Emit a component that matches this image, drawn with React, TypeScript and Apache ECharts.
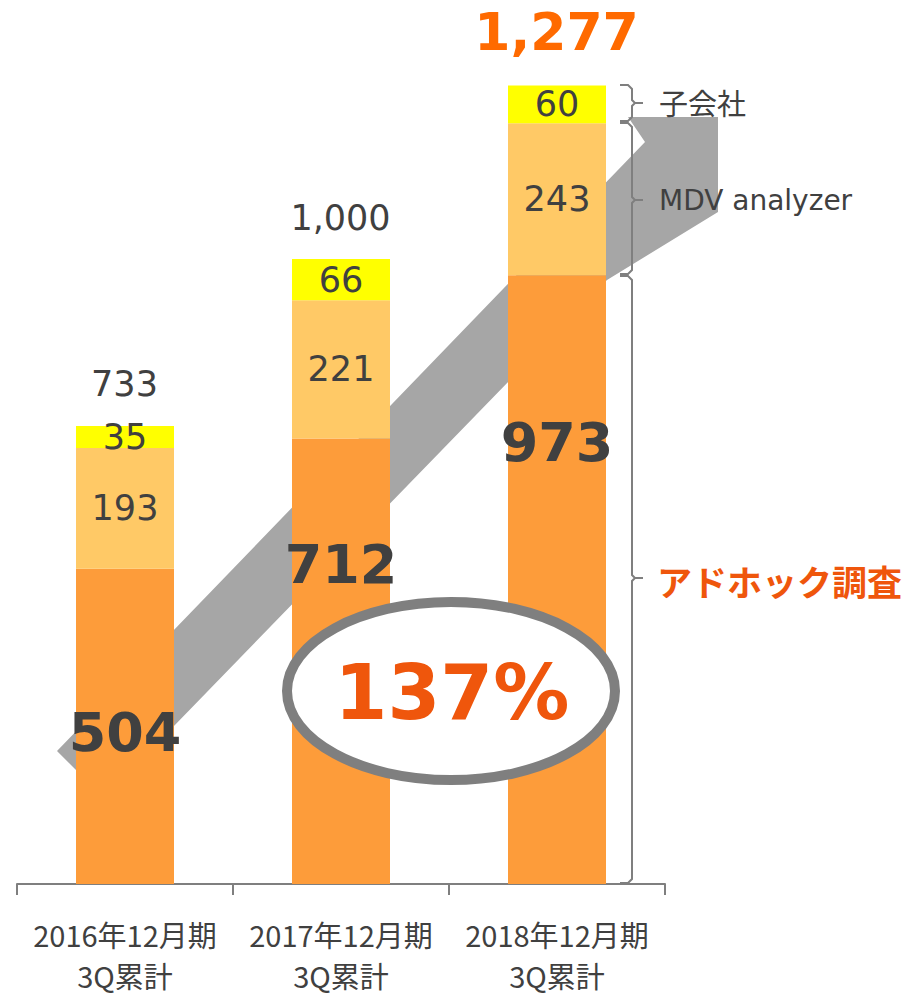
import React, { useEffect, useRef } from "react";
import * as echarts from "echarts";

const categories = ["2016年12月期\n3Q累計", "2017年12月期\n3Q累計", "2018年12月期\n3Q累計"];
const adhoc = [504, 712, 973];
const mdv = [193, 221, 243];
const subsidiary = [35, 66, 60];
const totals = [733, 1000, 1277];
const segmentNames = ["アドホック調査", "MDV analyzer", "子会社"];
const growthLabel = "137%";

// label placement (styling, pixels from segment top)
const adhocLabelOffsets = [164, 126, 167];
const totalLabelOffsets = [-41, -40, -52];

const DARK = "#404040";
const GRAY = "#7f7f7f";
const ACCENT = "#ef560c";

function brace(y1: number, y2: number, ym: number) {
  const x0 = 620;
  const xv = 632;
  return [
    {
      type: "polyline",
      z: 100,
      shape: {
        points: [
          [x0, y1], [xv - 4, y1], [xv, y1 + 4], [xv, ym - 3], [xv + 3, ym],
          [xv, ym + 3], [xv, y2 - 4], [xv - 4, y2], [x0, y2],
        ],
      },
      style: { stroke: GRAY, lineWidth: 2, fill: null },
    },
    {
      type: "line",
      z: 100,
      shape: { x1: xv + 2, y1: ym, x2: 643, y2: ym },
      style: { stroke: GRAY, lineWidth: 2 },
    },
  ];
}

export default function App() {
  const ref = useRef<HTMLDivElement>(null);
  useEffect(() => {
    if (!ref.current) return;
    const chart = echarts.init(ref.current, undefined, { renderer: "svg" });
    const numFont = "DejaVu Sans, Verdana, sans-serif";
    chart.setOption({
      animation: false,
      grid: { left: 17, right: 247, top: 8, bottom: 111, containLabel: false, outerBoundsMode: "none" },
      xAxis: {
        type: "category",
        data: categories,
        axisLine: { lineStyle: { color: GRAY, width: 2 } },
        axisTick: { show: true, interval: 0, length: 11, lineStyle: { color: GRAY, width: 2 } },
        axisLabel: {
          interval: 0,
          hideOverlap: false,
          color: DARK,
          fontSize: 29,
          lineHeight: 41,
          margin: 29,
          fontFamily: "Noto Sans CJK JP, sans-serif",
        },
      },
      yAxis: { type: "value", min: 0, max: 1400, show: false, splitLine: { show: false } },
      graphic: {
        elements: [
          {
            type: "polygon",
            z: 0,
            shape: {
              points: [
                [57, 751], [645, 142], [628, 117], [718, 117], [718, 212],
                [607, 280], [173, 727], [103, 797],
              ],
            },
            style: { fill: "#a6a6a6" },
          },
          ...brace(85, 121, 103),
          ...brace(123, 274, 200),
          ...brace(276, 883, 578),
          {
            type: "text",
            z: 100,
            x: 659,
            y: 102,
            style: {
              text: segmentNames[2], fill: DARK, fontSize: 29,
              fontFamily: "Noto Sans CJK JP, sans-serif", align: "left", verticalAlign: "middle",
            },
          },
          {
            type: "text",
            z: 100,
            x: 659,
            y: 200,
            style: {
              text: segmentNames[1], fill: DARK, fontSize: 28,
              fontFamily: numFont, align: "left", verticalAlign: "middle",
            },
          },
          {
            type: "text",
            z: 100,
            x: 657,
            y: 580,
            style: {
              text: segmentNames[0], fill: ACCENT, fontSize: 35, fontWeight: "bold",
              fontFamily: "Noto Sans CJK JP, sans-serif", align: "left", verticalAlign: "middle",
            },
          },
          {
            type: "ellipse",
            z: 100,
            shape: { cx: 451, cy: 691, rx: 164, ry: 89 },
            style: { fill: "#ffffff", stroke: GRAY, lineWidth: 10 },
          },
          {
            type: "text",
            z: 101,
            x: 452,
            y: 692,
            style: {
              text: growthLabel, fill: ACCENT, fontSize: 76, fontWeight: "bold",
              fontFamily: numFont, align: "center", verticalAlign: "middle",
            },
          },
        ],
      },
      series: [
        {
          name: segmentNames[0],
          type: "bar",
          stack: "total",
          barWidth: 98,
          itemStyle: { color: "#fd9c3a" },
          data: adhoc.map((v, i) => ({
            value: v,
            label: {
              show: true,
              position: ["50%", adhocLabelOffsets[i]],
              align: "center",
              verticalAlign: "middle",
            },
          })),
          label: {
            show: true,
            color: DARK,
            fontSize: 54,
            fontWeight: "bold",
            fontFamily: numFont,
          },
        },
        {
          name: segmentNames[1],
          type: "bar",
          stack: "total",
          barWidth: 98,
          itemStyle: { color: "#ffc966" },
          data: mdv,
          label: {
            show: true,
            position: "inside",
            color: DARK,
            fontSize: 35,
            fontFamily: numFont,
          },
        },
        {
          name: segmentNames[2],
          type: "bar",
          stack: "total",
          barWidth: 98,
          itemStyle: { color: "#ffff00" },
          data: subsidiary,
          label: {
            show: true,
            position: "inside",
            color: DARK,
            fontSize: 35,
            fontFamily: numFont,
          },
        },
        {
          name: "total",
          type: "scatter",
          symbolSize: 1,
          itemStyle: { color: "rgba(0,0,0,0)", opacity: 1 },
          z: 5,
          data: totals.map((v, i) => ({
            value: v,
            label: {
              show: true,
              position: [0, totalLabelOffsets[i]],
              align: "center",
              verticalAlign: "middle",
              formatter: (p: any) => Number(p.value).toLocaleString("en-US"),
              color: i === 2 ? "#ff6a00" : DARK,
              fontSize: i === 2 ? 52 : 35,
              fontWeight: i === 2 ? "bold" : "normal",
              fontFamily: numFont,
            },
          })),
        },
      ],
    });
    return () => chart.dispose();
  }, []);
  return (
    <div
      ref={ref}
      style={{ position: "absolute", left: 0, top: 0, width: 912, height: 995 }}
    />
  );
}
